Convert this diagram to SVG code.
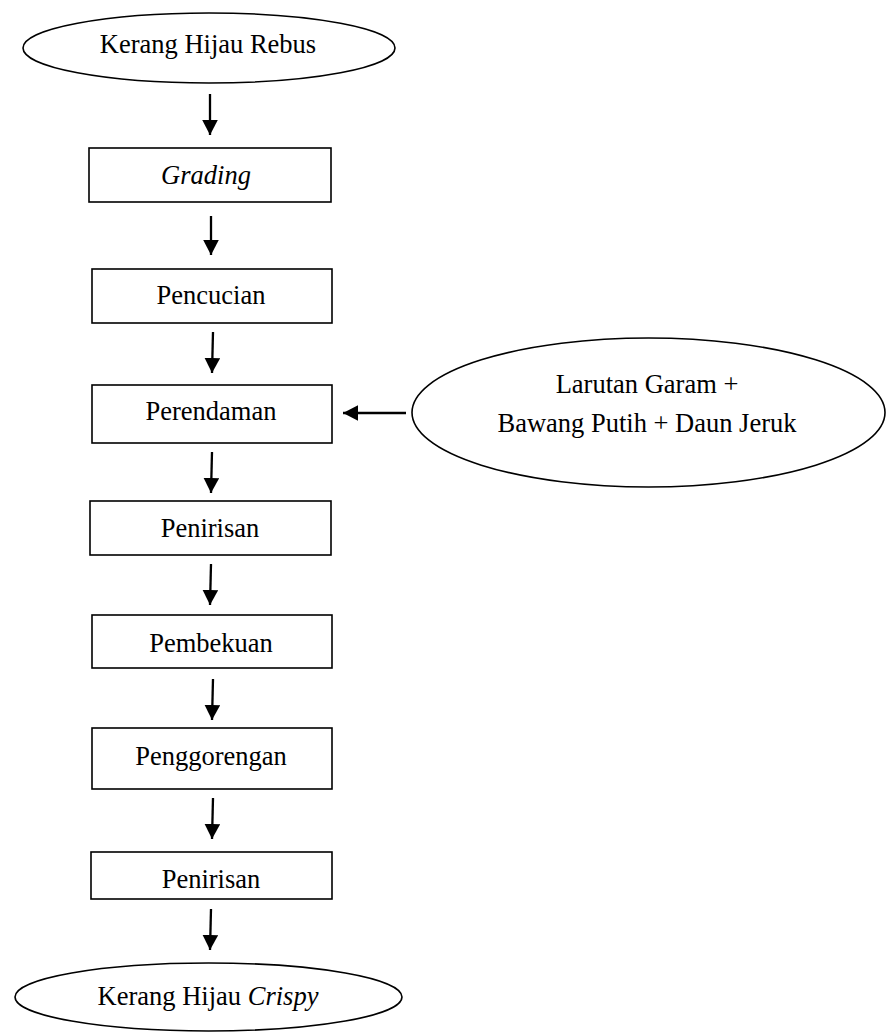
<svg xmlns="http://www.w3.org/2000/svg" width="890" height="1033" viewBox="0 0 890 1033">
<style>
.shape{fill:#fff;stroke:#000;stroke-width:1.6}
.lbl{font-family:"Liberation Serif","Times New Roman",serif;font-size:26.5px;fill:#000;text-anchor:middle}
.it{font-style:italic}
.conn{stroke:#000;stroke-width:2.3;fill:none;marker-end:url(#ah)}
</style>
<defs>
<marker id="ah" markerUnits="userSpaceOnUse" markerWidth="16" markerHeight="16" viewBox="0 0 16 16" refX="15" refY="7.8" orient="auto">
<path d="M0,0 L15,7.8 L0,15.6 z" fill="#000"/>
</marker>
</defs>
<rect width="890" height="1033" fill="#fff"/>
<g id="connectors">
<line class="conn" x1="210" y1="94" x2="210" y2="135"/>
<line class="conn" x1="211" y1="216" x2="211" y2="255"/>
<line class="conn" x1="213" y1="332" x2="212" y2="373"/>
<line class="conn" x1="212" y1="452" x2="211" y2="493"/>
<line class="conn" x1="211" y1="564" x2="210" y2="605"/>
<line class="conn" x1="213" y1="679" x2="212" y2="720"/>
<line class="conn" x1="213" y1="798" x2="212" y2="839"/>
<line class="conn" x1="211" y1="909" x2="210" y2="950"/>
<line class="conn" x1="406" y1="413" x2="343" y2="413"/>
</g>
<g id="start">
<ellipse class="shape" cx="209" cy="48" rx="186" ry="35"/>
<text class="lbl" x="208" y="53">Kerang Hijau Rebus</text>
</g>
<g id="grading">
<rect class="shape" x="89" y="148" width="242" height="54"/>
<text class="lbl it" x="206" y="184">Grading</text>
</g>
<g id="pencucian">
<rect class="shape" x="92" y="269" width="240" height="54"/>
<text class="lbl" x="211" y="304">Pencucian</text>
</g>
<g id="perendaman">
<rect class="shape" x="92" y="385" width="240" height="58"/>
<text class="lbl" x="211" y="420">Perendaman</text>
</g>
<g id="bahan">
<ellipse class="shape" cx="648.5" cy="412.5" rx="236.5" ry="74.5"/>
<text class="lbl" x="647" y="393">Larutan Garam +</text>
<text class="lbl" x="647" y="432">Bawang Putih + Daun Jeruk</text>
</g>
<g id="penirisan1">
<rect class="shape" x="90" y="501" width="241" height="54"/>
<text class="lbl" x="210" y="537">Penirisan</text>
</g>
<g id="pembekuan">
<rect class="shape" x="92" y="615" width="240" height="53"/>
<text class="lbl" x="211" y="652">Pembekuan</text>
</g>
<g id="penggorengan">
<rect class="shape" x="92" y="728" width="240" height="61"/>
<text class="lbl" x="211" y="765">Penggorengan</text>
</g>
<g id="penirisan2">
<rect class="shape" x="91" y="852" width="241" height="47"/>
<text class="lbl" x="211" y="888">Penirisan</text>
</g>
<g id="end">
<ellipse class="shape" cx="208.5" cy="997" rx="193.5" ry="34"/>
<text class="lbl" x="208" y="1005">Kerang Hijau <tspan class="it">Crispy</tspan></text>
</g>
</svg>
